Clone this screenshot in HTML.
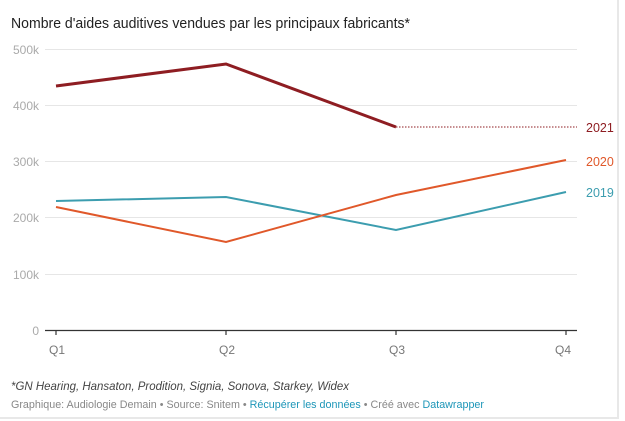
<!DOCTYPE html>
<html><head><style>
body{margin:0;background:#fff;width:625px;height:421px;overflow:hidden;font-family:"Liberation Sans",sans-serif;}
.frame{position:absolute;left:0;top:0;width:617px;height:417px;border-right:2px solid #e8e8e8;border-bottom:2px solid #e8e8e8;}
</style></head><body>
<div class="frame"></div>
<svg width="625" height="421" style="position:absolute;left:0;top:0" font-family="Liberation Sans, sans-serif">
<text x="11" y="28" font-size="14.5" fill="#222" textLength="399" lengthAdjust="spacingAndGlyphs">Nombre d'aides auditives vendues par les principaux fabricants*</text>
<g stroke="#e6e6e6" stroke-width="1">
<line x1="45" x2="577" y1="49.5" y2="49.5"/>
<line x1="45" x2="577" y1="105.5" y2="105.5"/>
<line x1="45" x2="577" y1="161.5" y2="161.5"/>
<line x1="45" x2="577" y1="217.5" y2="217.5"/>
<line x1="45" x2="577" y1="274.5" y2="274.5"/>
</g>
<g font-size="12" fill="#aaa" text-anchor="end">
<text x="39" y="54">500k</text><text x="39" y="110">400k</text><text x="39" y="166">300k</text>
<text x="39" y="222">200k</text><text x="39" y="279">100k</text><text x="39" y="335">0</text>
</g>
<line x1="45" x2="577" y1="330.5" y2="330.5" stroke="#333" stroke-width="1.2"/>
<g stroke="#333" stroke-width="1.2">
<line x1="56" x2="56" y1="330" y2="335"/><line x1="226" x2="226" y1="330" y2="335"/>
<line x1="396" x2="396" y1="330" y2="335"/><line x1="566" x2="566" y1="330" y2="335"/>
</g>
<g font-size="12" fill="#777" text-anchor="middle">
<text x="57" y="354">Q1</text><text x="227" y="354">Q2</text><text x="397" y="354">Q3</text><text x="563" y="354">Q4</text>
</g>
<polyline points="56,201 226,197 396,230 566,192" fill="none" stroke="#3c9daf" stroke-width="2"/>
<polyline points="56,207 226,242 396,195 566,160" fill="none" stroke="#e0582a" stroke-width="2"/>
<polyline points="56,86 226,64 396,127" fill="none" stroke="#8e1d22" stroke-width="3"/>
<line x1="396" x2="577" y1="127" y2="127" stroke="#8e1d22" stroke-width="1" stroke-dasharray="1.5,1.5"/>
<g font-size="12.5">
<text x="586" y="132" fill="#8e1d22">2021</text>
<text x="586" y="166" fill="#e0582a">2020</text>
<text x="586" y="197" fill="#3c9daf">2019</text>
</g>
<text x="11" y="390" font-size="12" font-style="italic" fill="#444" textLength="338" lengthAdjust="spacingAndGlyphs">*GN Hearing, Hansaton, Prodition, Signia, Sonova, Starkey, Widex</text>
<text x="11" y="408" font-size="11" fill="#888" textLength="473" lengthAdjust="spacingAndGlyphs">Graphique: Audiologie Demain • Source: Snitem • <tspan fill="#1d96b8">Récupérer les données</tspan> • Créé avec <tspan fill="#1d96b8">Datawrapper</tspan></text>
</svg>
</body></html>
